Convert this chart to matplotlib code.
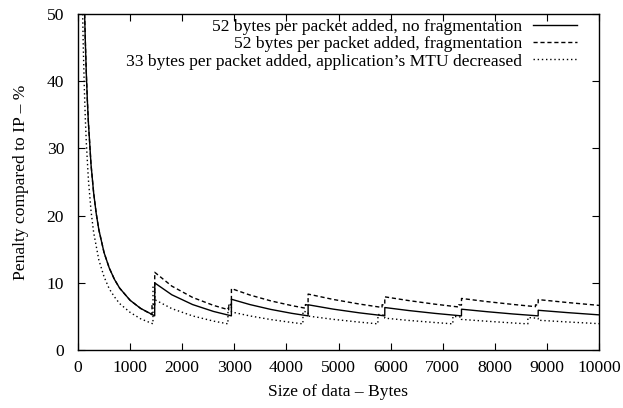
import matplotlib
matplotlib.use("Agg")
import matplotlib.pyplot as plt

plt.rcParams['font.family'] = ['Liberation Serif', 'DejaVu Serif']
plt.rcParams['font.size'] = 12.6

# 52 bytes per packet added, no fragmentation
nofrag_x = [127, 140, 160, 180, 200, 250, 300, 350, 400, 500, 600, 700, 800, 1000, 1200, 1472,
            1473, 1800, 2200, 2600, 2944,
            2945, 3300, 3700, 4100, 4416,
            4417, 4900, 5400, 5888,
            5889, 6350, 6850, 7360,
            7361, 7850, 8350, 8832,
            8833, 9400, 10000]
nofrag_y = [50.0, 46.1, 41.1, 37.1, 33.8, 27.6, 23.4, 20.3, 17.9, 14.5, 12.2, 10.5, 9.2, 7.4, 6.2, 5.08,
            9.98, 8.22, 6.76, 5.74, 5.08,
            7.55, 6.76, 6.04, 5.46, 5.08,
            6.73, 6.08, 5.53, 5.08,
            6.32, 5.87, 5.45, 5.08,
            6.07, 5.70, 5.36, 5.08,
            5.91, 5.56, 5.23]

# 52 bytes per packet added, fragmentation
frag_x = [127, 140, 160, 180, 200, 250, 300, 350, 400, 500, 600, 700, 800, 1000, 1200, 1420, 1421, 1472,
          1473, 1800, 2200, 2600, 2892, 2893, 2944,
          2945, 3300, 3700, 4100, 4364, 4365, 4416,
          4417, 4900, 5400, 5836, 5837, 5888,
          5889, 6350, 6850, 7308, 7309, 7360,
          7361, 7850, 8350, 8780, 8781, 8832,
          8833, 9400, 10000]
frag_y = [50.0, 46.1, 41.1, 37.1, 33.8, 27.6, 23.4, 20.3, 17.9, 14.5, 12.2, 10.5, 9.2, 7.4, 6.2, 5.26, 6.92, 6.68,
          11.56, 9.51, 7.82, 6.64, 5.98, 6.80, 6.68,
          9.14, 8.18, 7.31, 6.61, 6.22, 6.76, 6.68,
          8.32, 7.52, 6.84, 6.33, 6.74, 6.68,
          7.91, 7.35, 6.82, 6.40, 6.73, 6.68,
          7.67, 7.20, 6.78, 6.45, 6.72, 6.68,
          7.50, 7.06, 6.64]

# 33 bytes per packet added, application's MTU decreased
mtu_x = [89, 100, 120, 140, 160, 200, 250, 300, 400, 500, 600, 700, 800, 1000, 1200, 1439, 1440, 1472,
         1473, 1800, 2200, 2600, 2878, 2879, 2944,
         2945, 3300, 3700, 4100, 4317, 4318, 4416,
         4417, 4900, 5400, 5756, 5757, 5888,
         5889, 6350, 6850, 7195, 7196, 7360,
         7361, 7850, 8350, 8634, 8635, 8832,
         8833, 9400, 10000]
mtu_y = [50.0, 45.6, 39.3, 34.5, 30.8, 25.3, 20.7, 17.5, 13.4, 10.9, 9.1, 7.9, 6.9, 5.6, 4.65, 3.89, 9.49, 9.29,
         7.49, 6.16, 5.07, 4.30, 3.89, 6.69, 6.55,
         5.66, 5.07, 4.53, 4.10, 3.89, 5.76, 5.63,
         5.05, 4.56, 4.15, 3.89, 5.29, 5.18,
         4.74, 4.40, 4.09, 3.89, 5.01, 4.90,
         4.55, 4.28, 4.02, 3.89, 4.83, 4.72,
         4.43, 4.17, 3.92]

labels = ["52 bytes per packet added, no fragmentation",
          "52 bytes per packet added, fragmentation",
          "33 bytes per packet added, application\u2019s MTU decreased"]

fig = plt.figure(figsize=(6.23, 4.08), dpi=100)
ax = fig.add_axes([78 / 623, 1 - 350 / 408, 521 / 623, 336 / 408])

ax.plot(nofrag_x, nofrag_y, color='black', lw=1.0, label=labels[0])
ax.plot(frag_x, frag_y, color='black', lw=1.0, ls=(0, (3, 2)), label=labels[1])
ax.plot(mtu_x, mtu_y, color='black', lw=1.0, ls=(0, (1, 2)), label=labels[2])

ax.set_xlim(0, 10000)
ax.set_ylim(0, 50)
ax.set_xticks(range(0, 10001, 1000))
ax.set_yticks(range(0, 51, 10))
ax.tick_params(direction='in', top=True, right=True, length=5, width=0.8)
ax.tick_params(axis='x', pad=7)
ax.tick_params(axis='y', pad=10)
for s in ax.spines.values():
    s.set_linewidth(1.0)

ax.set_xlabel("Size of data \u2013 Bytes", labelpad=6)
ax.set_ylabel("Penalty compared to IP \u2013 %", labelpad=13)

leg = ax.legend(loc='upper right', bbox_to_anchor=(0.958, 0.985), frameon=False,
                markerfirst=False, handlelength=2.5, handletextpad=0.65,
                labelspacing=0.05, borderpad=0, borderaxespad=0)
leg._legend_handle_box.get_children()[0].align = 'right'

fig.savefig("out.png", dpi=100)
